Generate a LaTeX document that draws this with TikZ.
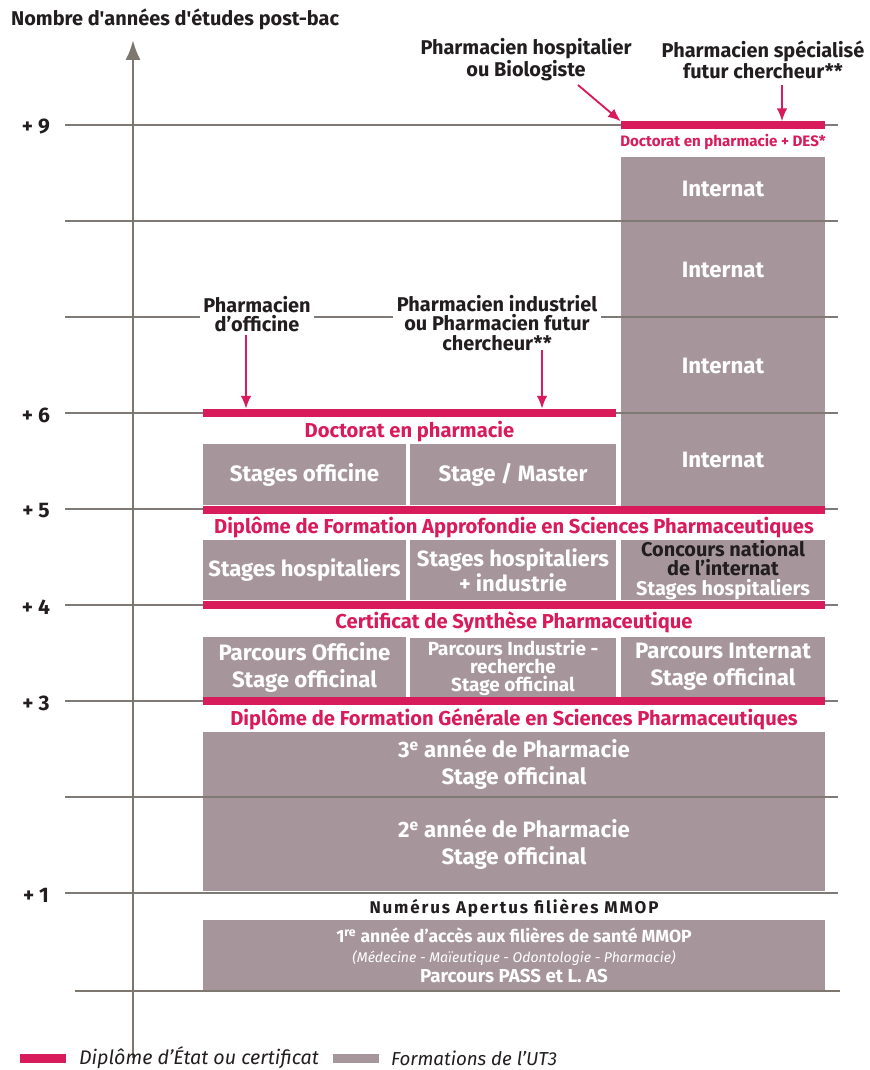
\documentclass[tikz,border=0pt]{standalone}
\usepackage{fontspec}
\setmainfont{Fira Sans}
\usetikzlibrary{arrows.meta}
\definecolor{ut3gray}{RGB}{166,150,155}
\definecolor{diplome}{RGB}{216,27,90}
\definecolor{axisgray}{RGB}{125,119,112}
\definecolor{gridgray}{RGB}{128,122,118}
\definecolor{inktext}{RGB}{34,30,32}

\begin{document}
\begin{tikzpicture}[x=0.03cm,y=-0.03cm,
	cell/.style 2 args={minimum width=#1*0.03cm, minimum height=#2*0.03cm},
	box/.style={fill=ut3gray, inner sep=0pt, text=white, align=center, font=\fontsize{19}{23}\selectfont\bfseries},
	bar/.style={fill=diplome, inner sep=0pt},
	titre/.style={text=diplome, inner sep=1pt, font=\fontsize{17.2}{19}\selectfont\bfseries},
	debouche/.style={fill=white, text=inktext, align=center, inner sep=3pt, font=\fontsize{17}{16.5}\selectfont\bfseries},
	annee/.style={text=inktext, font=\fontsize{18}{20}\selectfont\bfseries},
	grille/.style={gridgray, line width=0.9pt},
	fleche/.style={diplome, line width=1.6pt, -{Latex[length=11pt, width=9pt]}},
	axe/.style={axisgray, line width=2.5pt}]
	\useasboundingbox (0,0) rectangle (869,1070);

	% Internat
	\node[box, cell={204}{64}] (int9) at (723,189) {Internat};
	\node[box, cell={204}{96}] (int8) at (723,270) {Internat};
	\node[box, cell={204}{96}] (int7) at (723,366) {Internat};
	\node[box, cell={204}{92}] (int6) at (723,460) {Internat};
	% 5e / 6e annee
	\node[box, cell={203}{61}] (offi) at (304.5,474.5) {Stages officine};
	\node[box, cell={206}{61}] (master) at (513,474.5) {Stage / Master};
	% 4e / 5e annee
	\node[box, cell={203}{60}, font=\fontsize{18.8}{21}\selectfont\bfseries] (hospi) at (304.5,570) {Stages hospitaliers};
	\node[box, cell={206}{60}, font=\fontsize{18.8}{21}\selectfont\bfseries] (indus) at (513,570) {Stages hospitaliers\\+ industrie};
	\node[box, cell={204}{60}, font=\fontsize{17}{16.5}\selectfont\bfseries] (concours) at (723,570) {\textcolor{inktext}{Concours national}\\\textcolor{inktext}{de l’internat}\\Stages hospitaliers};
	% 3e / 4e annee
	\node[box, cell={203}{61}] (poffi) at (304.5,667) {Parcours Officine\\Stage officinal};
	\node[box, cell={206}{61}, font=\fontsize{16.2}{15.3}\selectfont\bfseries] (pindus) at (513,668) {Parcours Industrie -\\recherche\\Stage officinal};
	\node[box, cell={204}{61}] (pinter) at (723,667) {Parcours Internat\\Stage officinal};
	% 1re a 3e annee
	\node[box, cell={622}{65}] (an3) at (514,764.5) {3\textsuperscript{e} année de Pharmacie\\Stage officinal};
	\node[box, cell={622}{94}] (an2) at (514,844) {2\textsuperscript{e} année de Pharmacie\\Stage officinal};
	\node[box, cell={622}{70}, font=\fontsize{15}{17}\selectfont\bfseries] (pass) at (514,955) {1\textsuperscript{re} année d’accès aux filières de santé MMOP\\{\fontsize{12}{17}\selectfont\mdseries\itshape (Médecine - Maïeutique - Odontologie - Pharmacie)}\\{\fontsize{16}{17}\selectfont Parcours PASS et L. AS}};

	% grille
	\draw[grille] (65,125) -- (838,125);
	\draw[grille] (65,221) -- (838,221);
	\draw[grille] (65,317) -- (838,317);
	\draw[grille] (65,413) -- (838,413);
	\draw[grille] (65,509) -- (838,509);
	\draw[grille] (65,605) -- (838,605);
	\draw[grille] (65,701) -- (838,701);
	\draw[grille] (65,797) -- (838,797);
	\draw[grille] (65,893) -- (838,893);
	\node[annee] (g9) at (36,127) {+ 9};
	\node[annee] (g6) at (36,415) {+ 6};
	\node[annee] (g5) at (36,511) {+ 5};
	\node[annee] (g4) at (36,607) {+ 4};
	\node[annee] (g3) at (36,703) {+ 3};
	\node[annee] (g1) at (36,895) {+ 1};

	% diplomes
	\node[bar, cell={204}{8}] (doc9) at (723,125.5) {};
	\node[bar, cell={413}{8}] (doc6) at (409.5,413) {};
	\node[bar, cell={622}{8}] (dfasp) at (514,509.5) {};
	\node[bar, cell={622}{8}] (csp) at (514,605) {};
	\node[bar, cell={622}{8}] (dfgsp) at (514,701) {};
	\node[titre, font=\fontsize{12.9}{14}\selectfont\bfseries] (tdoc9) at (723,142) {Doctorat en pharmacie + DES*};
	\node[titre] (tdoc6) at (409.5,432) {Doctorat en pharmacie};
	\node[titre] (tdfasp) at (514,527) {Diplôme de Formation Approfondie en Sciences Pharmaceutiques};
	\node[titre] (tcsp) at (514,622) {Certificat de Synthèse Pharmaceutique};
	\node[titre] (tdfgsp) at (514,719.5) {Diplôme de Formation Générale en Sciences Pharmaceutiques};
	\node[annee, font=\fontsize{14.5}{16}\selectfont\bfseries\addfontfeature{LetterSpace=11}] (numerus) at (514,908) {Numérus Apertus filières MMOP};

	% axes
	\coordinate (axe-b) at (133,1058);
	\coordinate (axe-h) at (133,40);
	\coordinate (base-g) at (75,991);
	\coordinate (base-d) at (840,991);
	\draw[axe] (base-g) -- (base-d);
	\draw[axe, -{Latex[length=17pt, width=13pt]}] (axe-b) -- (axe-h);
	\node[annee, anchor=west, font=\fontsize{17}{19}\selectfont\bfseries] (titre-axe) at (7,19) {Nombre d\textquotesingle années d\textquotesingle études post-bac};

	% debouches
	\node[debouche] (hosp) at (526,60) {Pharmacien hospitalier\\ou Biologiste};
	\node[debouche] (cherch) at (763,60) {Pharmacien spécialisé\\futur chercheur**};
	\node[debouche] (offic) at (257,314) {Pharmacien\\d’officine};
	\node[debouche] (indpharm) at (497,323) {Pharmacien industriel\\ou Pharmacien futur\\chercheur**};
	\coordinate (hosp-a) at (578,85);
	\coordinate (cherch-a) at (782,85);
	\coordinate (offic-a) at (246,335);
	\coordinate (indpharm-a) at (542,350);
	\draw[fleche] (hosp-a) -- (doc9.north west);
	\draw[fleche] (cherch-a) -- (cherch-a |- doc9.north);
	\draw[fleche] (offic-a) -- (offic-a |- doc6.north);
	\draw[fleche] (indpharm-a) -- (indpharm-a |- doc6.north);

	% legende
	\node[bar, cell={46}{9}] (leg-d) at (43,1058) {};
	\node[anchor=west, text=inktext, font=\fontsize{16.8}{18}\selectfont\itshape] (leg-dt) at (75,1058) {Diplôme d’État ou certificat};
	\node[fill=ut3gray, inner sep=0pt, cell={46}{9}] (leg-f) at (355.5,1058) {};
	\node[anchor=west, text=inktext, font=\fontsize{16}{18}\selectfont\itshape] (leg-ft) at (387,1058) {Formations de l’UT3};
\end{tikzpicture}
\end{document}
